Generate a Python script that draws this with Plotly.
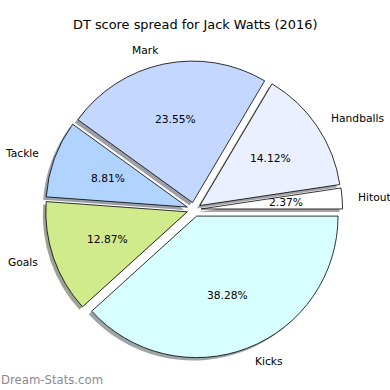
import math
import plotly.graph_objects as go

categories = ["Hitout", "Handballs", "Mark", "Tackle", "Goals", "Kicks"]
values = [2.37, 14.12, 23.55, 8.81, 12.87, 38.28]
colors = ["#ffffff", "#eaf0ff", "#c4d8ff", "#b0d4ff", "#d0ea8c", "#d8ffff"]
pulls = [0.05] * 6

def shadow(c):
    r, g, b = int(c[1:3], 16), int(c[3:5], 16), int(c[5:7], 16)
    return f"rgba({int(r*0.3)},{int(g*0.3)},{int(b*0.3)},0.5)"

W = H = 390
CX, CY, R = 194.0, 209.5, 141.5     # pie centre (px from top-left) and radius
half = R * (1 + max(pulls))
dom_x = [(CX - half) / W, (CX + half) / W]
dom_y = [(H - CY - half) / H, (H - CY + half) / H]
off = 3.0 / W
total = sum(values)
# first wedge begins at 3 o'clock and the pie runs counter-clockwise
rot = 90 - 360 * values[0] / total

common = dict(labels=categories, values=values, sort=False, direction="counterclockwise",
              rotation=rot, pull=pulls, hoverinfo="skip", showlegend=False, textinfo="none")

fig = go.Figure()
fig.add_trace(go.Pie(**common, domain=dict(x=[dom_x[0] - off, dom_x[1] - off],
                                            y=[dom_y[0] - off, dom_y[1] - off]),
                     marker=dict(colors=[shadow(c) for c in colors], line=dict(width=0))))
fig.add_trace(go.Pie(**common, domain=dict(x=dom_x, y=dom_y),
                     marker=dict(colors=colors, line=dict(color="black", width=0.8))))

# labels (1.1 R) and percentages (0.6 R) along each wedge's mid angle
font = dict(family="DejaVu Sans", size=10.7, color="black")
annotations = []
start = 0.0
for lab, v, p in zip(categories, values, pulls):
    frac = v / total
    mid = math.radians((start + frac / 2) * 360)
    start += frac
    c, s = math.cos(mid), math.sin(mid)
    wx, wy = CX + p * R * c, CY - p * R * s
    lx, ly = wx + 1.1 * R * c, wy - 1.1 * R * s
    tx, ty = wx + 0.6 * R * c, wy - 0.6 * R * s
    annotations.append(dict(text=lab, x=lx / W, y=1 - ly / H, xref="paper", yref="paper",
                            xanchor="left" if c > 0 else "right", yanchor="middle",
                            showarrow=False, font=font))
    annotations.append(dict(text=f"{frac*100:.2f}%", x=tx / W, y=1 - ty / H, xref="paper",
                            yref="paper", xanchor="center", yanchor="middle",
                            showarrow=False, font=font))

annotations.append(dict(text="DT score spread for Jack Watts (2016)", x=0.5, y=1 - 25 / H,
                        xref="paper", yref="paper", xanchor="center", yanchor="middle",
                        showarrow=False, font=dict(family="DejaVu Sans", size=12.9, color="black")))
annotations.append(dict(text="Dream-Stats.com", x=0, y=10 / H, xref="paper", yref="paper",
                        xanchor="left", yanchor="middle", showarrow=False, borderpad=0,
                        font=dict(family="DejaVu Sans", size=11.7, color="#8a8a8a")))

fig.update_layout(width=W, height=H, margin=dict(l=0, r=0, t=0, b=0),
                  paper_bgcolor="white", plot_bgcolor="white", annotations=annotations)
fig.write_html("out.html", config={"displayModeBar": False},
               post_script="document.body.style.margin='0';document.body.style.overflow='hidden';")
